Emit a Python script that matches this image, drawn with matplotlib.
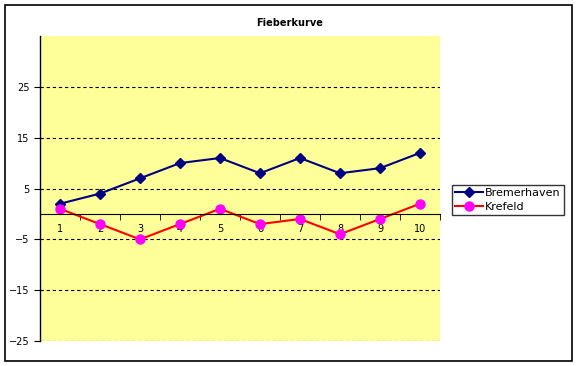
import numpy as np
import matplotlib.pyplot as plt
from matplotlib.patches import Rectangle

# Daten
tage = [1, 2, 3, 4, 5, 6, 7, 8, 9, 10]
bremerhaven = [2, 4, 7, 10, 11, 8, 11, 8, 9, 12]
krefeld = [1, -2, -5, -2, 1, -2, -1, -4, -1, 2]
y_ticks = [-25, -15, -5, 5, 15, 25]

plt.rcParams['font.family'] = ['DejaVu Sans']

fig = plt.figure(figsize=(5.78, 3.66), dpi=100)
ax = fig.add_axes([40/578, 1 - 341/366, 400/578, 305/366])

# Rahmen um das ganze Diagramm
fig.patches.append(Rectangle((5/578, 5/366), 567/578, 356/366, transform=fig.transFigure,
                             fill=False, edgecolor='black', linewidth=1.2))

ax.set_facecolor('#FFFF99')
ax.plot(tage, bremerhaven, color='#000080', linewidth=1.5, marker='D', markersize=5.5,
        markerfacecolor='#000080', markeredgecolor='#000080', label='Bremerhaven')
ax.plot(tage, krefeld, color='#FF0000', linewidth=1.5, marker='o', markersize=6.5,
        markerfacecolor='#FF00FF', markeredgecolor='#FF00FF', label='Krefeld')

ax.set_xlim(0.5, 10.5)
ax.set_ylim(-25, 35)
ax.set_yticks(y_ticks)
ax.set_xticks(tage)
ax.set_xticks(np.arange(0.5, 11, 1), minor=True)
ax.tick_params(axis='x', which='major', length=0, labelsize=7, pad=7)
ax.tick_params(axis='x', which='minor', length=4, direction='out')
ax.tick_params(axis='y', length=4, direction='out', labelsize=7)

ax.grid(True, axis='y', linestyle=(0, (3, 2.5)), color='black', linewidth=0.8)
ax.set_axisbelow(True)

ax.spines['top'].set_visible(False)
ax.spines['right'].set_visible(False)
ax.spines['bottom'].set_position(('data', 0))
ax.spines['left'].set_linewidth(1.0)

fig.text(290/578, 1 - 23/366, 'Fieberkurve', ha='center', va='center', fontsize=7, fontweight='bold')

leg = fig.legend(loc='center left', bbox_to_anchor=(452/578, 1 - 200/366), fontsize=8,
                 frameon=True, fancybox=False, edgecolor='black', borderpad=0.3,
                 handlelength=2.5, handletextpad=0.2, labelspacing=0.3, borderaxespad=0)
leg.get_frame().set_linewidth(1.0)

fig.savefig('out.png', dpi=100)
